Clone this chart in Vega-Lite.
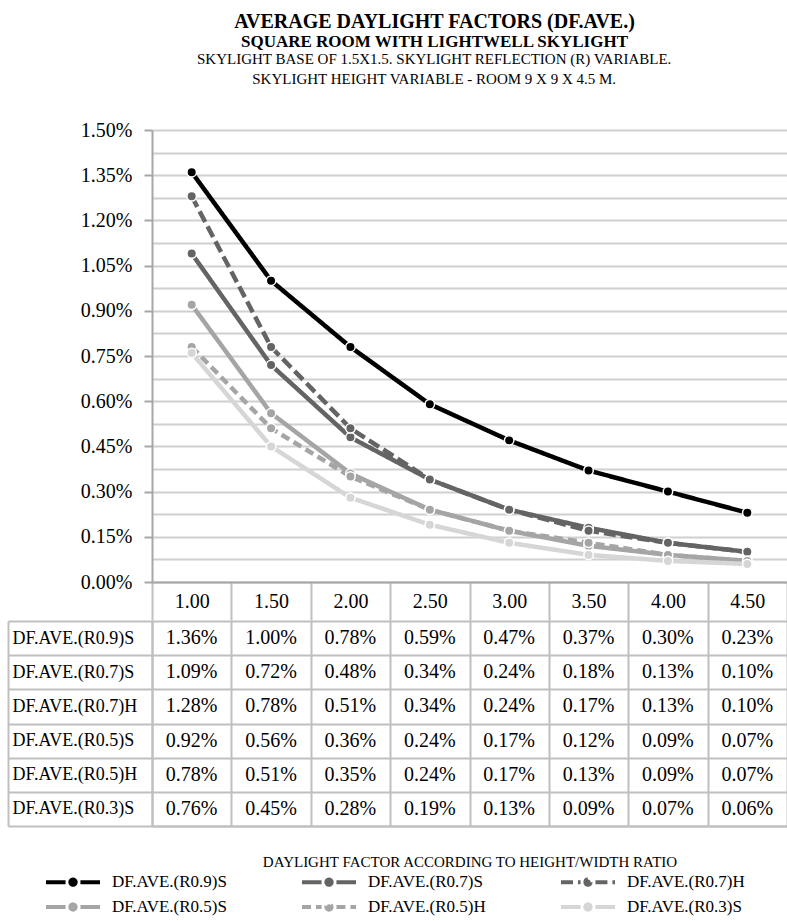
{
  "$schema": "https://vega.github.io/schema/vega-lite/v6.json",
  "padding": {"left": 7, "top": 12, "right": 0, "bottom": 4},
  "background": "white",
  "title": {
    "text": "AVERAGE DAYLIGHT FACTORS (DF.AVE.)",
    "subtitle": "SQUARE ROOM WITH LIGHTWELL SKYLIGHT",
    "anchor": "middle",
    "frame": "bounds",
    "dx": 37,
    "font": "Liberation Serif",
    "fontSize": 20,
    "fontWeight": "bold",
    "color": "black",
    "subtitleFont": "Liberation Serif",
    "subtitleFontSize": 17,
    "subtitleFontWeight": "bold",
    "subtitleColor": "black",
    "subtitlePadding": 2,
    "offset": 2
  },
  "datasets": {
    "df": [
      {"r": "1.00", "s": "DF.AVE.(R0.9)S", "v": 0.0136}, {"r": "1.50", "s": "DF.AVE.(R0.9)S", "v": 0.0100}, {"r": "2.00", "s": "DF.AVE.(R0.9)S", "v": 0.0078}, {"r": "2.50", "s": "DF.AVE.(R0.9)S", "v": 0.0059}, {"r": "3.00", "s": "DF.AVE.(R0.9)S", "v": 0.0047}, {"r": "3.50", "s": "DF.AVE.(R0.9)S", "v": 0.0037}, {"r": "4.00", "s": "DF.AVE.(R0.9)S", "v": 0.0030}, {"r": "4.50", "s": "DF.AVE.(R0.9)S", "v": 0.0023},
      {"r": "1.00", "s": "DF.AVE.(R0.7)S", "v": 0.0109}, {"r": "1.50", "s": "DF.AVE.(R0.7)S", "v": 0.0072}, {"r": "2.00", "s": "DF.AVE.(R0.7)S", "v": 0.0048}, {"r": "2.50", "s": "DF.AVE.(R0.7)S", "v": 0.0034}, {"r": "3.00", "s": "DF.AVE.(R0.7)S", "v": 0.0024}, {"r": "3.50", "s": "DF.AVE.(R0.7)S", "v": 0.0018}, {"r": "4.00", "s": "DF.AVE.(R0.7)S", "v": 0.0013}, {"r": "4.50", "s": "DF.AVE.(R0.7)S", "v": 0.0010},
      {"r": "1.00", "s": "DF.AVE.(R0.7)H", "v": 0.0128}, {"r": "1.50", "s": "DF.AVE.(R0.7)H", "v": 0.0078}, {"r": "2.00", "s": "DF.AVE.(R0.7)H", "v": 0.0051}, {"r": "2.50", "s": "DF.AVE.(R0.7)H", "v": 0.0034}, {"r": "3.00", "s": "DF.AVE.(R0.7)H", "v": 0.0024}, {"r": "3.50", "s": "DF.AVE.(R0.7)H", "v": 0.0017}, {"r": "4.00", "s": "DF.AVE.(R0.7)H", "v": 0.0013}, {"r": "4.50", "s": "DF.AVE.(R0.7)H", "v": 0.0010},
      {"r": "1.00", "s": "DF.AVE.(R0.5)S", "v": 0.0092}, {"r": "1.50", "s": "DF.AVE.(R0.5)S", "v": 0.0056}, {"r": "2.00", "s": "DF.AVE.(R0.5)S", "v": 0.0036}, {"r": "2.50", "s": "DF.AVE.(R0.5)S", "v": 0.0024}, {"r": "3.00", "s": "DF.AVE.(R0.5)S", "v": 0.0017}, {"r": "3.50", "s": "DF.AVE.(R0.5)S", "v": 0.0012}, {"r": "4.00", "s": "DF.AVE.(R0.5)S", "v": 0.0009}, {"r": "4.50", "s": "DF.AVE.(R0.5)S", "v": 0.0007},
      {"r": "1.00", "s": "DF.AVE.(R0.5)H", "v": 0.0078}, {"r": "1.50", "s": "DF.AVE.(R0.5)H", "v": 0.0051}, {"r": "2.00", "s": "DF.AVE.(R0.5)H", "v": 0.0035}, {"r": "2.50", "s": "DF.AVE.(R0.5)H", "v": 0.0024}, {"r": "3.00", "s": "DF.AVE.(R0.5)H", "v": 0.0017}, {"r": "3.50", "s": "DF.AVE.(R0.5)H", "v": 0.0013}, {"r": "4.00", "s": "DF.AVE.(R0.5)H", "v": 0.0009}, {"r": "4.50", "s": "DF.AVE.(R0.5)H", "v": 0.0007},
      {"r": "1.00", "s": "DF.AVE.(R0.3)S", "v": 0.0076}, {"r": "1.50", "s": "DF.AVE.(R0.3)S", "v": 0.0045}, {"r": "2.00", "s": "DF.AVE.(R0.3)S", "v": 0.0028}, {"r": "2.50", "s": "DF.AVE.(R0.3)S", "v": 0.0019}, {"r": "3.00", "s": "DF.AVE.(R0.3)S", "v": 0.0013}, {"r": "3.50", "s": "DF.AVE.(R0.3)S", "v": 0.0009}, {"r": "4.00", "s": "DF.AVE.(R0.3)S", "v": 0.0007}, {"r": "4.50", "s": "DF.AVE.(R0.3)S", "v": 0.0006}
    ]
  },
  "config": {
    "font": "Liberation Serif",
    "view": {"stroke": null}
  },
  "spacing": -9,
  "vconcat": [
    {
      "width": 635,
      "height": 452,
      "title": {
        "text": ["SKYLIGHT BASE OF 1.5X1.5. SKYLIGHT REFLECTION (R) VARIABLE.", "SKYLIGHT HEIGHT VARIABLE - ROOM 9 X 9 X 4.5 M."],
        "anchor": "middle",
        "frame": "bounds",
        "font": "Liberation Serif",
        "fontSize": 15,
        "fontWeight": "normal",
        "color": "black",
        "lineHeight": 20,
        "offset": 33
      },
      "data": {"name": "df"},
      "encoding": {
        "x": {
          "field": "r", "type": "ordinal", "bandPosition": 0.5,
          "scale": {"type": "band", "paddingInner": 0, "paddingOuter": 0},
          "axis": {
            "title": null, "labelAngle": 0, "labelFont": "Liberation Serif", "labelFontSize": 20, "labelColor": "black",
            "labelPadding": -29, "tickBand": "extent", "tickSize": 38, "tickWidth": 2, "tickColor": "#bfbfbf",
            "domainColor": "#a6a6a6", "domainWidth": 2, "grid": false
          }
        },
        "y": {
          "field": "v", "type": "quantitative",
          "scale": {"domain": [0, 0.015], "nice": false},
          "axis": {
            "title": null, "format": ".2%",
            "values": [0, 0.00075, 0.0015, 0.00225, 0.003, 0.00375, 0.0045, 0.00525, 0.006, 0.00675, 0.0075, 0.00825, 0.009, 0.00975, 0.0105, 0.01125, 0.012, 0.01275, 0.0135, 0.01425, 0.015],
            "labelExpr": "round(datum.value / 0.00075) % 2 == 0 ? datum.label : ''",
            "labelFont": "Liberation Serif", "labelFontSize": 20, "labelColor": "black", "labelPadding": 12,
            "tickSize": 8, "tickWidth": 2, "tickColor": "#a6a6a6",
            "tickOpacity": {"condition": {"test": "round(datum.value / 0.00075) % 2 == 0", "value": 1}, "value": 0},
            "domainColor": "#a6a6a6", "domainWidth": 2,
            "grid": true, "gridColor": "#d0d0d0", "gridWidth": 2
          }
        }
      },
      "layer": [
        {
          "mark": {"type": "line", "strokeWidth": 4.5},
          "encoding": {
            "color": {
              "field": "s", "type": "nominal",
              "scale": {
                "domain": ["DF.AVE.(R0.9)S", "DF.AVE.(R0.7)S", "DF.AVE.(R0.7)H", "DF.AVE.(R0.5)S", "DF.AVE.(R0.5)H", "DF.AVE.(R0.3)S"],
                "range": ["#000000", "#646464", "#646464", "#a5a5a5", "#a5a5a5", "#d6d6d6"]
              },
              "legend": {
                "orient": "none",
                "legendX": -93,
                "legendY": 738,
                "direction": "horizontal",
                "columns": 3,
                "title": null,
                "labelFont": "Liberation Serif",
                "labelFontSize": 17,
                "labelColor": "black",
                "labelOffset": 25,
                "symbolType": "M-2.25,0L-0.62,0M0.62,0L2.25,0M0.22,0A0.22,0.22,0,1,1,-0.22,0A0.22,0.22,0,1,1,0.22,0",
                "symbolSize": 576,
                "symbolStrokeWidth": 4,
                "columnPadding": 67,
                "rowPadding": 0
              }
            },
            "strokeDash": {
              "field": "s", "type": "nominal",
              "scale": {
                "domain": ["DF.AVE.(R0.9)S", "DF.AVE.(R0.7)S", "DF.AVE.(R0.7)H", "DF.AVE.(R0.5)S", "DF.AVE.(R0.5)H", "DF.AVE.(R0.3)S"],
                "range": [[1, 0], [1, 0], [12, 5], [1, 0], [9, 5], [1, 0]]
              }
            }
          }
        },
        {
          "mark": {"type": "point", "shape": "circle", "filled": true, "size": 90, "stroke": "white", "strokeWidth": 1.5, "opacity": 1},
          "encoding": {
            "color": {"field": "s", "type": "nominal"}
          }
        }
      ]
    },
    {
      "width": 635,
      "height": 205,
      "data": {"name": "df"},
      "resolve": {"axis": {"y": "independent"}},
      "layer": [
        {
          "mark": {"type": "text", "font": "Liberation Serif", "fontSize": 20, "color": "black"},
          "encoding": {
            "x": {
              "field": "r", "type": "ordinal", "bandPosition": 0.5,
              "scale": {"type": "band", "paddingInner": 0, "paddingOuter": 0},
              "axis": {
                "title": "DAYLIGHT FACTOR ACCORDING TO HEIGHT/WIDTH RATIO",
                "titleFont": "Liberation Serif", "titleFontSize": 15, "titleFontWeight": "normal", "titleColor": "black", "titlePadding": 28,
                "labels": false, "ticks": false, "domain": true, "domainColor": "#bfbfbf", "domainWidth": 2,
                "grid": true, "tickBand": "extent", "gridColor": "#bfbfbf", "gridWidth": 2
              }
            },
            "y": {
              "field": "s", "type": "nominal", "bandPosition": 0.5,
              "scale": {"type": "band", "paddingInner": 0, "paddingOuter": 0,
                "domain": ["DF.AVE.(R0.9)S", "DF.AVE.(R0.7)S", "DF.AVE.(R0.7)H", "DF.AVE.(R0.5)S", "DF.AVE.(R0.5)H", "DF.AVE.(R0.3)S"]},
              "axis": {
                "title": null, "orient": "left", "labelFont": "Liberation Serif", "labelFontSize": 18, "labelColor": "black",
                "labelAlign": "left", "labelPadding": -4, "labelLimit": 200,
                "tickBand": "extent", "tickSize": 144, "tickWidth": 2, "tickColor": "#bfbfbf",
                "domain": true, "domainColor": "#bfbfbf", "domainWidth": 2,
                "grid": true, "gridColor": "#bfbfbf", "gridWidth": 2
              }
            },
            "text": {"field": "v", "type": "quantitative", "format": ".2%"}
          }
        },
        {
          "mark": {"type": "text", "opacity": 0},
          "encoding": {
            "x": {"field": "r", "type": "ordinal", "bandPosition": 0.5},
            "y": {
              "field": "s", "type": "nominal", "bandPosition": 0.5,
              "axis": {
                "title": null, "orient": "left", "offset": 144, "labels": false, "ticks": false,
                "domain": true, "domainColor": "#bfbfbf", "domainWidth": 2, "grid": false
              }
            },
            "text": {"field": "v", "type": "quantitative", "format": ".2%"}
          }
        }
      ]
    }
  ]
}
